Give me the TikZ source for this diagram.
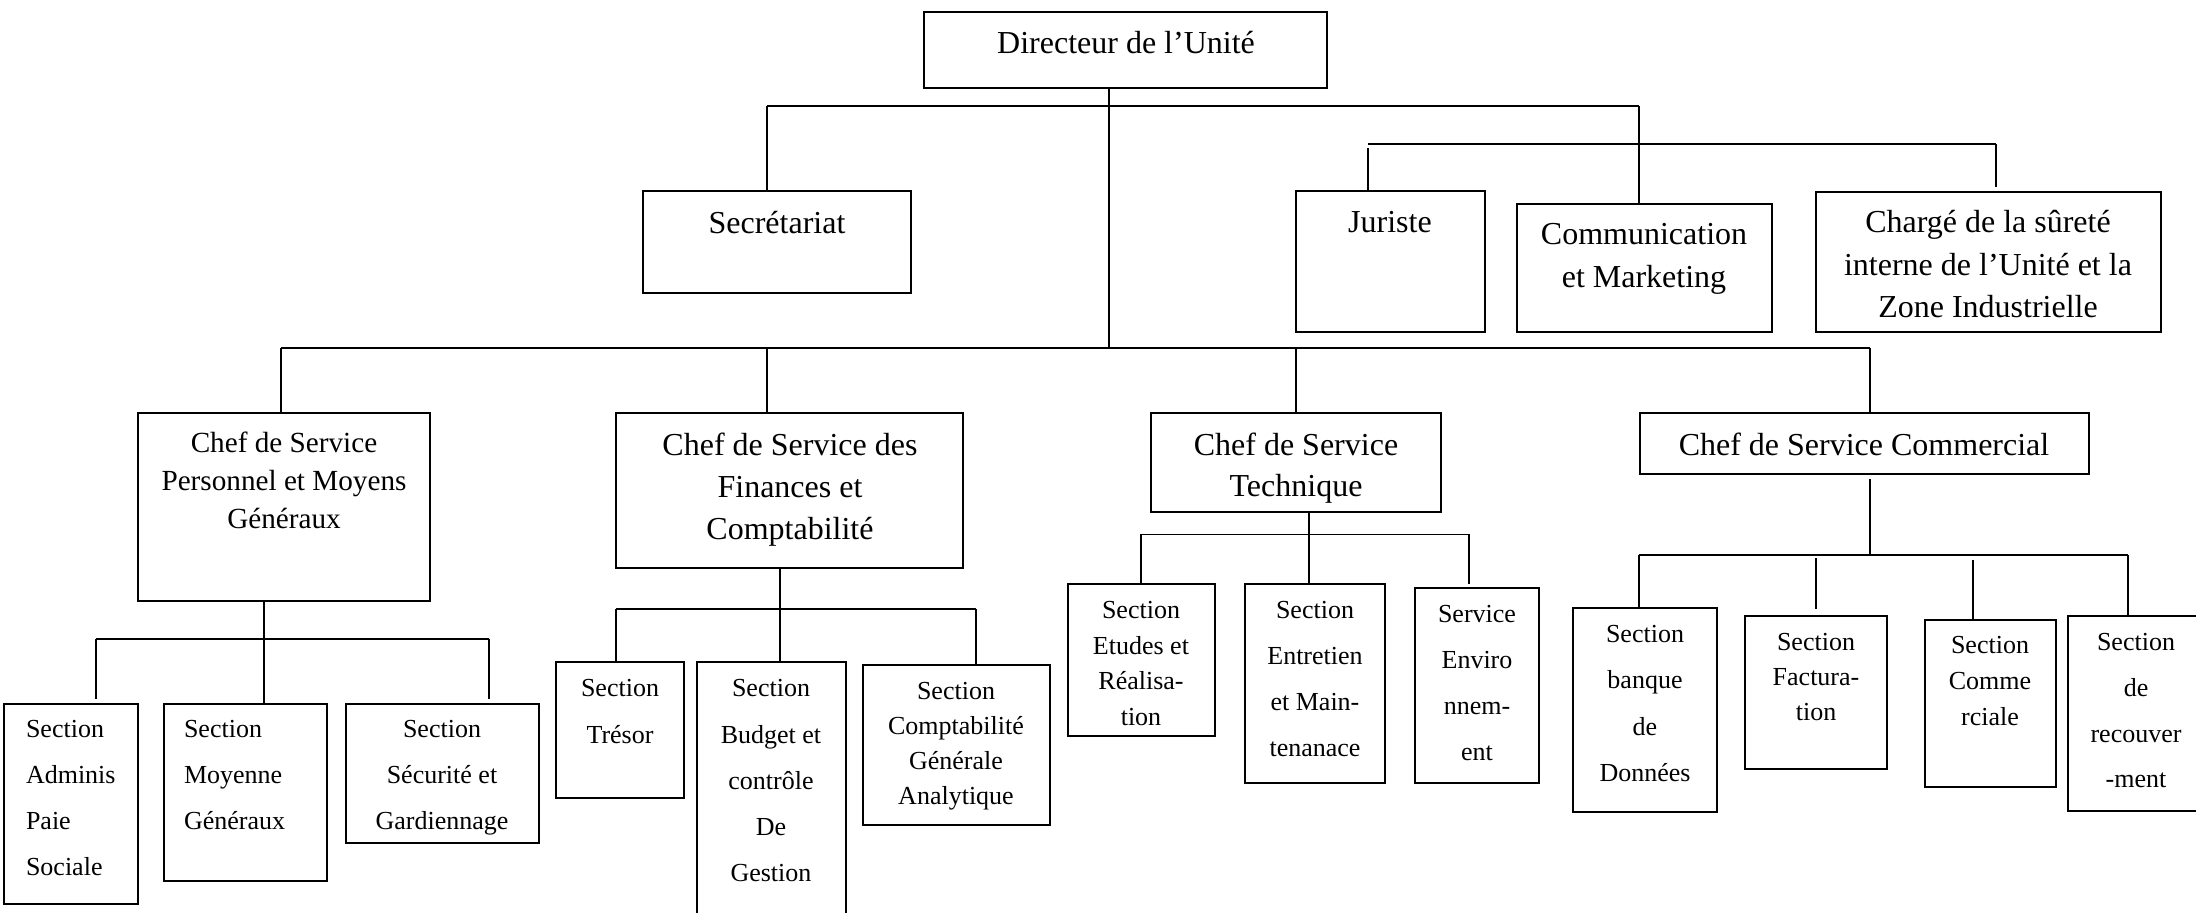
\documentclass[tikz,border=0pt]{standalone}
\usepackage{fontspec}
\setmainfont{Liberation Serif}
\usetikzlibrary{fit}
\begin{document}
\begin{tikzpicture}[x=0.5pt,y=-0.5pt,
  box/.style={draw, line width=1.2pt, inner sep=0pt, outer sep=0pt},
  link/.style={line width=0.9pt},
  txb/.style={font=\fontsize{16pt}{#1}\selectfont, align=center, inner sep=0pt, outer sep=0pt, anchor=north},
  txs/.style={font=\fontsize{13pt}{#1}\selectfont, align=center, inner sep=0pt, outer sep=0pt, anchor=north},
  txl/.style={txs=#1, align=left, anchor=north west},
]
\useasboundingbox (0,0) rectangle (2196,912);
\clip (0,0) rectangle (2196,912);

% ---------- boxes ----------
\node[box, fit={(924,12) (1327,88)}] (dir) {};
\node[box, fit={(643,191) (911,293)}] (sec) {};
\node[box, fit={(1296,191) (1485,332)}] (jur) {};
\node[box, fit={(1517,204) (1772,332)}] (com) {};
\node[box, fit={(1816,192) (2161,332)}] (chg) {};

\node[box, fit={(138,413) (430,601)}] (chefP) {};
\node[box, fit={(616,413) (963,568)}] (chefF) {};
\node[box, fit={(1151,413) (1441,512)}] (chefT) {};
\node[box, fit={(1640,413) (2089,474)}] (chefC) {};

\node[box, fit={(4,704) (138,904)}] (adm) {};
\node[box, fit={(164,704) (327,881)}] (moy) {};
\node[box, fit={(346,704) (539,843)}] (secu) {};

\node[box, fit={(556,662) (684,798)}] (tres) {};
\node[box, fit={(697,662) (846,940)}] (budg) {};
\node[box, fit={(863,665) (1050,825)}] (cpta) {};

\node[box, fit={(1068,584) (1215,736)}] (etud) {};
\node[box, fit={(1245,584) (1385,783)}] (entr) {};
\node[box, fit={(1415,588) (1539,783)}] (envi) {};

\node[box, fit={(1573,608) (1717,812)}] (banq) {};
\node[box, fit={(1745,616) (1887,769)}] (fact) {};
\node[box, fit={(1925,620) (2056,787)}] (comm) {};
\node[box, fit={(2068,616) (2230,811)}] (recv) {};

% ---------- texts ----------
\node[txb=20pt] (dirT) at (1126,31.5) {Directeur de l’Unité};
\node[txb=20pt] (secT) at (777,211.5) {Secrétariat};
\node[txb=20pt] (jurT) at (1390,211.5) {Juriste};
\node[txb=21.5pt] (comT) at (1644,223.5) {Communication\\et Marketing};
\node[txb=21.25pt] (chgT) at (1988,210.5) {Chargé de la sûreté\\interne de l’Unité et la\\Zone Industrielle};

\node[txb=19pt, font=\fontsize{14.6pt}{19pt}\selectfont] (chefPT) at (284,432.3) {Chef de Service\\Personnel et Moyens\\Généraux};
\node[txb=21.1pt] (chefFT) at (790,433) {Chef de Service des\\Finances et\\Comptabilité};
\node[txb=20.25pt] (chefTT) at (1296,433) {Chef de Service\\Technique};
\node[txb=20pt] (chefCT) at (1864,433) {Chef de Service Commercial};

\node[txl=23pt] (admT) at (26,720.6) {Section\\Adminis\\Paie\\Sociale};
\node[txl=23pt] (moyT) at (184,720.6) {Section\\Moyenne\\Généraux};
\node[txs=23pt] (secuT) at (442,720.6) {Section\\Sécurité et\\Gardiennage};

\node[txs=23.5pt] (tresT) at (620,679.6) {Section\\Trésor};
\node[txs=23.1pt] (budgT) at (771,679.6) {Section\\Budget et\\contrôle\\De\\Gestion};
\node[txs=17.5pt] (cptaT) at (956,682) {Section\\Comptabilité\\Générale\\Analytique};

\node[txs=17.75pt] (etudT) at (1141,601.3) {Section\\Etudes et\\Réalisa-\\tion};
\node[txs=23pt] (entrT) at (1315,601.3) {Section\\Entretien\\et Main-\\tenanace};
\node[txs=23pt] (enviT) at (1477,605.6) {Service\\Enviro\\nnem-\\ent};

\node[txs=23.2pt] (banqT) at (1645,625) {Section\\banque\\de\\Données};
\node[txs=17.5pt] (factT) at (1816,633.6) {Section\\Factura-\\tion};
\node[txs=17.9pt] (commT) at (1990,636.6) {Section\\Comme\\rciale};
\node[txs=22.85pt] (recvT) at (2136,633.6) {Section\\de\\recouver\\-ment};

% ---------- connectors: top level ----------
\coordinate (trunk) at (1109,348);
\draw[link] (dir.south -| trunk) -- (trunk);

\coordinate (aL) at (767,106);
\coordinate (aR) at (1639,106);
\draw[link] (aL) -- (aR);
\draw[link] (aL) -- (aL |- sec.north);
\draw[link] (aR) -- (aR |- com.north);

\coordinate (bL) at (1368,144);
\coordinate (bR) at (1996,144);
\coordinate (bLd) at (1368,148);
\coordinate (bRe) at (1996,187);
\draw[link] (bL) -- (bR);
\draw[link] (bLd) -- (bLd |- jur.north);
\draw[link] (bR) -- (bRe);

\coordinate (mL) at (281,348);
\coordinate (mF) at (767,348);
\coordinate (mT) at (1296,348);
\coordinate (mR) at (1870,348);
\draw[link] (mL) -- (mR);
\draw[link] (mL) -- (mL |- chefP.north);
\draw[link] (mF) -- (mF |- chefF.north);
\draw[link] (mT) -- (mT |- chefT.north);
\draw[link] (mR) -- (mR |- chefC.north);

% ---------- Personnel et Moyens Généraux ----------
\coordinate (pJ) at (264,638.6);
\coordinate (pL) at (96,638.6);
\coordinate (pR) at (489,638.6);
\coordinate (pLe) at (96,699);
\coordinate (pRe) at (489,699);
\draw[link] (chefP.south -| pJ) -- (pJ);
\draw[link] (pL) -- (pR);
\draw[link] (pL) -- (pLe);
\draw[link] (pJ) -- (pJ |- moy.north);
\draw[link] (pR) -- (pRe);

% ---------- Finances et Comptabilité ----------
\coordinate (fJ) at (780,609);
\coordinate (fL) at (616,609);
\coordinate (fR) at (976,609);
\draw[link] (chefF.south -| fJ) -- (fJ);
\draw[link] (fL) -- (fR);
\draw[link] (fL) -- (fL |- tres.north);
\draw[link] (fJ) -- (fJ |- budg.north);
\draw[link] (fR) -- (fR |- cpta.north);

% ---------- Technique ----------
\coordinate (tJ) at (1309,534.4);
\coordinate (tL) at (1141,534.4);
\coordinate (tR) at (1469,534.4);
\coordinate (tRe) at (1469,584);
\draw[link] (chefT.south -| tJ) -- (tJ);
\draw[link] (tL) -- (tR);
\draw[link] (tL) -- (tL |- etud.north);
\draw[link] (tJ) -- (tJ |- entr.north);
\draw[link] (tR) -- (tRe);

% ---------- Commercial ----------
\coordinate (cTop) at (1870,479.4);
\coordinate (cJ) at (1870,554.8);
\coordinate (cL) at (1639,554.8);
\coordinate (cR) at (2128,554.8);
\coordinate (c2s) at (1816,558);
\coordinate (c2e) at (1816,609);
\coordinate (c3s) at (1973,560);
\draw[link] (cTop) -- (cJ);
\draw[link] (cL) -- (cR);
\draw[link] (cL) -- (cL |- banq.north);
\draw[link] (c2s) -- (c2e);
\draw[link] (c3s) -- (c3s |- comm.north);
\draw[link] (cR) -- (cR |- recv.north);
\end{tikzpicture}
\end{document}
